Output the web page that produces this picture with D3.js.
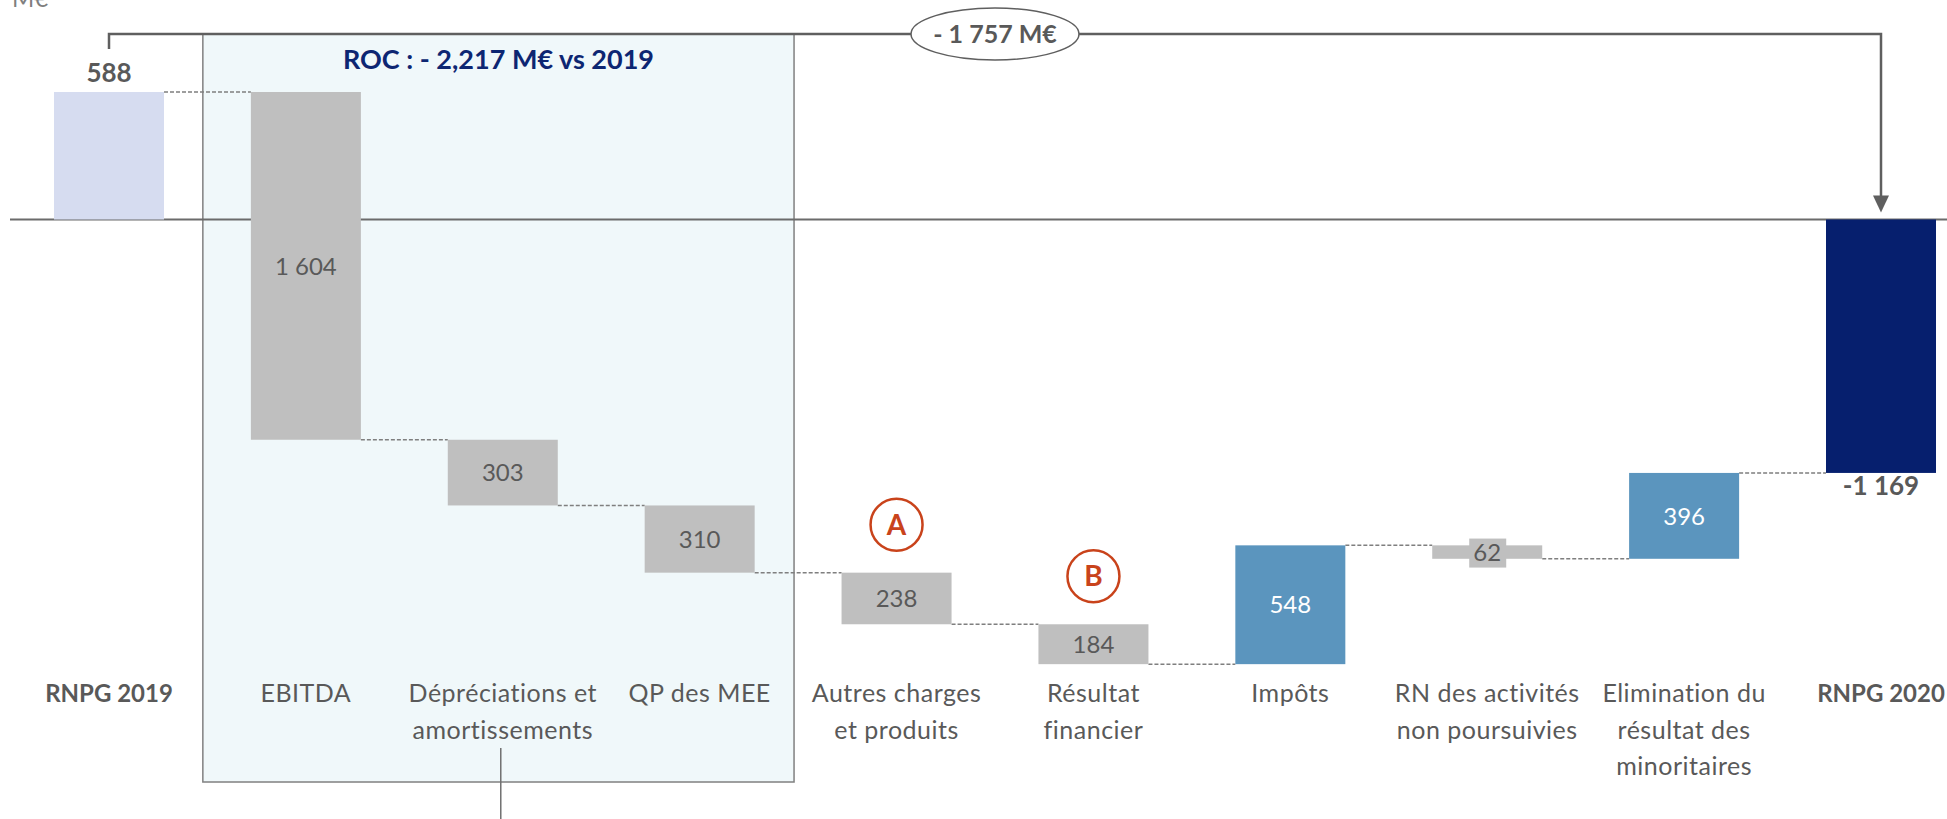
<!DOCTYPE html>
<html>
<head>
<meta charset="utf-8">
<script src="https://cdn.jsdelivr.net/npm/d3@7"></script>
<style>
  body { margin: 0; background: #fff; }
  text { font-family: Lato, "Open Sans", sans-serif; }
</style>
</head>
<body>
<div id="chart"></div>
<script>
// categories, one entry per bar (lines of the axis label)
var categoryLines = [
  ["RNPG 2019"],
  ["EBITDA"],
  ["Dépréciations et", "amortissements"],
  ["QP des MEE"],
  ["Autres charges", "et produits"],
  ["Résultat", "financier"],
  ["Impôts"],
  ["RN des activités", "non poursuivies"],
  ["Elimination du", "résultat des", "minoritaires"],
  ["RNPG 2020"]
];
// first and last are totals, the others are variations
var values = [588, -1604, -303, -310, -238, -184, 548, -62, 396, -1169];
var isTotal = [true, false, false, false, false, false, false, false, false, true];
// bars grouped in the ROC box
var rocCategories = [1, 2, 3];
// circled markers
var markerCategories = [4, 5];
var markerLetters = ["A", "B"];
var unitLabel = "M€";

var width = 1947, height = 819;

// running totals
var bars = [];
var running = 0;
values.forEach(function (v, i) {
  var b = { i: i, v: v };
  if (isTotal[i]) {
    b.y0 = 0; b.y1 = v; running = v;
  } else {
    b.y0 = running; b.y1 = running + v; running = running + v;
  }
  bars.push(b);
});

var minLevel = d3.min(bars, function (b) { return Math.min(b.y0, b.y1); });

var x = d3.scaleBand()
  .domain(d3.range(values.length))
  .range([54, 1936])
  .paddingInner(0.4413)
  .paddingOuter(0);

var y = d3.scaleLinear()
  .domain([minLevel, values[0]])
  .range([219.5 + (-minLevel) * 0.2168, 92]);

var frLocale = d3.formatLocale({ decimal: ",", thousands: "\u00a0", grouping: [3], currency: ["", " €"], minus: "-" });
var fmt = frLocale.format(",d");

var color = function (b) {
  if (b.i === 0) return "#d6dcf0";
  if (b.i === values.length - 1) return "#061f6e";
  return b.v < 0 ? "#bfbfbf" : "#5b95be";
};

var svg = d3.select("#chart")
  .append("svg")
  .attr("width", width)
  .attr("height", height);

// ROC box
var step = x.step();
var boxLeft = x(rocCategories[0]) - step * 0.244;
var boxRight = x(rocCategories[rocCategories.length - 1]) + x.bandwidth() + step * 0.2;
svg.append("rect")
  .attr("x", boxLeft)
  .attr("y", 34)
  .attr("width", boxRight - boxLeft)
  .attr("height", 782 - 34)
  .attr("fill", "#f0f8fa")
  .attr("stroke", "#808080")
  .attr("stroke-width", 1.5);

// line under "Dépréciations et amortissements"
var midRoc = x(rocCategories[1]) + x.bandwidth() / 2 - 2;
svg.append("line")
  .attr("x1", midRoc).attr("x2", midRoc)
  .attr("y1", 748).attr("y2", height)
  .attr("stroke", "#707070")
  .attr("stroke-width", 1.5);

svg.append("text")
  .attr("x", boxLeft + (boxRight - boxLeft) / 2)
  .attr("y", 69)
  .attr("text-anchor", "middle")
  .attr("font-size", 27)
  .attr("font-weight", "bold")
  .attr("fill", "#0d2672")
  .text("ROC : - " + d3.format(",d")(-d3.sum(rocCategories, function (c) { return values[c]; })) + " M€ vs 2019");

// zero line
svg.append("line")
  .attr("x1", 10).attr("x2", width)
  .attr("y1", y(0)).attr("y2", y(0))
  .attr("stroke", "#6b6b6b")
  .attr("stroke-width", 2);

// dashed connectors
for (var i = 0; i < bars.length - 1; i++) {
  var lvl = bars[i].y1;
  svg.append("line")
    .attr("x1", x(i) + x.bandwidth())
    .attr("x2", x(i + 1))
    .attr("y1", y(lvl))
    .attr("y2", y(lvl))
    .attr("stroke", "#7f7f7f")
    .attr("stroke-width", 1.5)
    .attr("stroke-dasharray", "4,2");
}

// bars
svg.selectAll("rect.bar")
  .data(bars)
  .enter()
  .append("rect")
  .attr("class", "bar")
  .attr("x", function (d) { return x(d.i); })
  .attr("y", function (d) { return y(Math.max(d.y0, d.y1)); })
  .attr("width", x.bandwidth())
  .attr("height", function (d) { return Math.abs(y(d.y0) - y(d.y1)); })
  .attr("fill", color);

// value labels inside the variation bars
var inner = bars.filter(function (d) { return !isTotal[d.i]; });

// small backing box for labels in very thin bars
inner.filter(function (d) { return Math.abs(y(d.y0) - y(d.y1)) < 25; })
  .forEach(function (d) {
    var cx = x(d.i) + x.bandwidth() / 2;
    var cy = (y(d.y0) + y(d.y1)) / 2 + 1;
    svg.append("rect")
      .attr("x", cx - 18).attr("y", cy - 14.5)
      .attr("width", 37).attr("height", 29)
      .attr("fill", "#bfbfbf");
  });

svg.selectAll("text.val")
  .data(inner)
  .enter()
  .append("text")
  .attr("class", "val")
  .attr("x", function (d) { return x(d.i) + x.bandwidth() / 2; })
  .attr("y", function (d) { return (y(d.y0) + y(d.y1)) / 2; })
  .attr("dy", "0.36em")
  .attr("text-anchor", "middle")
  .attr("font-size", 24)
  .attr("fill", function (d) { return d.v < 0 ? "#595959" : "#ffffff"; })
  .text(function (d) { return fmt(Math.abs(d.v)); });

// total labels
svg.append("text")
  .attr("x", x(0) + x.bandwidth() / 2)
  .attr("y", y(values[0]) - 10)
  .attr("text-anchor", "middle")
  .attr("font-size", 26)
  .attr("font-weight", "bold")
  .attr("fill", "#595959")
  .text(fmt(values[0]));

var last = values.length - 1;
svg.append("text")
  .attr("x", x(last) + x.bandwidth() / 2)
  .attr("y", y(values[last]) + 22)
  .attr("text-anchor", "middle")
  .attr("font-size", 26)
  .attr("font-weight", "bold")
  .attr("fill", "#595959")
  .text(fmt(values[last]));

// category labels
var catG = svg.selectAll("g.cat")
  .data(categoryLines)
  .enter()
  .append("g")
  .attr("class", "cat")
  .attr("transform", function (d, i) { return "translate(" + (x(i) + x.bandwidth() / 2) + ",702)"; });

catG.each(function (lines, i) {
  var g = d3.select(this);
  lines.forEach(function (ln, k) {
    g.append("text")
      .attr("y", k * 36.5)
      .attr("text-anchor", "middle")
      .attr("font-size", isTotal[i] ? 24 : 25)
      .attr("letter-spacing", isTotal[i] ? 0 : 0.5)
      .attr("font-weight", isTotal[i] ? "bold" : "normal")
      .attr("fill", "#595959")
      .text(ln);
  });
});

// circled markers
markerCategories.forEach(function (c, k) {
  var cx = x(c) + x.bandwidth() / 2;
  var cy = y(Math.max(bars[c].y0, bars[c].y1)) - 48;
  svg.append("circle")
    .attr("cx", cx).attr("cy", cy).attr("r", 26)
    .attr("fill", "none")
    .attr("stroke", "#c9431b")
    .attr("stroke-width", 2.5);
  svg.append("text")
    .attr("x", cx).attr("y", cy)
    .attr("dy", "0.36em")
    .attr("text-anchor", "middle")
    .attr("font-size", 28)
    .attr("font-weight", "bold")
    .attr("fill", "#c9431b")
    .text(markerLetters[k]);
});

// overall bracket with arrow
var xa = x(0) + x.bandwidth() / 2;
var xb = x(last) + x.bandwidth() / 2;
var tip = y(0) - 7;
svg.append("path")
  .attr("d", "M" + xa + ",49V34H" + xb + "V" + (tip - 16))
  .attr("fill", "none")
  .attr("stroke", "#5f5f5f")
  .attr("stroke-width", 2.5);
svg.append("path")
  .attr("d", "M" + (xb - 8) + "," + (tip - 17) + "L" + (xb + 8) + "," + (tip - 17) + "L" + xb + "," + tip + "Z")
  .attr("fill", "#5f5f5f");

var ex = (x(4) + x(5) + x.bandwidth()) / 2;
svg.append("ellipse")
  .attr("cx", ex).attr("cy", 34)
  .attr("rx", 84).attr("ry", 26)
  .attr("fill", "#fff")
  .attr("stroke", "#5f5f5f")
  .attr("stroke-width", 1.5);
svg.append("text")
  .attr("x", ex).attr("y", 34)
  .attr("dy", "0.36em")
  .attr("text-anchor", "middle")
  .attr("font-size", 25)
  .attr("font-weight", "bold")
  .attr("fill", "#595959")
  .text("- " + fmt(Math.abs(values[last] - values[0])) + " M€");

// unit
svg.append("text")
  .attr("x", 12)
  .attr("y", 7)
  .attr("font-size", 24)
  .attr("fill", "#7f7f7f")
  .text(unitLabel);
</script>
</body>
</html>
